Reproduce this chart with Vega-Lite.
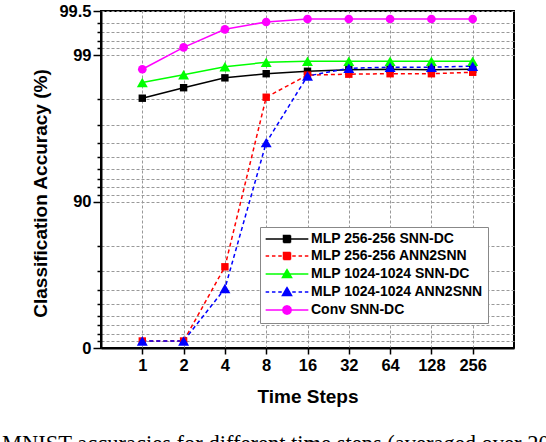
{
  "$schema": "https://vega.github.io/schema/vega-lite/v6.json",
  "autosize": "none",
  "padding": {"left": 101, "top": 11, "right": 32, "bottom": 94},
  "width": 413,
  "height": 337,
  "background": "white",
  "title": {
    "text": "MNIST accuracies for different time steps (averaged over 20",
    "orient": "bottom",
    "anchor": "start",
    "frame": "group",
    "dx": -99,
    "offset": 26,
    "font": "Liberation Serif",
    "fontSize": 22.5,
    "fontWeight": "normal",
    "color": "black"
  },
  "data": {
    "values": [
      {"series": "MLP 256-256 SNN-DC", "step": 1, "error": 1.97},
      {"series": "MLP 256-256 SNN-DC", "step": 2, "error": 1.67},
      {"series": "MLP 256-256 SNN-DC", "step": 4, "error": 1.43},
      {"series": "MLP 256-256 SNN-DC", "step": 8, "error": 1.34},
      {"series": "MLP 256-256 SNN-DC", "step": 16, "error": 1.29},
      {"series": "MLP 256-256 SNN-DC", "step": 32, "error": 1.26},
      {"series": "MLP 256-256 SNN-DC", "step": 64, "error": 1.25},
      {"series": "MLP 256-256 SNN-DC", "step": 128, "error": 1.26},
      {"series": "MLP 256-256 SNN-DC", "step": 256, "error": 1.25},
      {"series": "MLP 256-256 ANN2SNN", "step": 1, "error": 89.6},
      {"series": "MLP 256-256 ANN2SNN", "step": 2, "error": 89.6},
      {"series": "MLP 256-256 ANN2SNN", "step": 4, "error": 27.9},
      {"series": "MLP 256-256 ANN2SNN", "step": 8, "error": 1.94},
      {"series": "MLP 256-256 ANN2SNN", "step": 16, "error": 1.37},
      {"series": "MLP 256-256 ANN2SNN", "step": 32, "error": 1.35},
      {"series": "MLP 256-256 ANN2SNN", "step": 64, "error": 1.34},
      {"series": "MLP 256-256 ANN2SNN", "step": 128, "error": 1.34},
      {"series": "MLP 256-256 ANN2SNN", "step": 256, "error": 1.31},
      {"series": "MLP 1024-1024 SNN-DC", "step": 1, "error": 1.54},
      {"series": "MLP 1024-1024 SNN-DC", "step": 2, "error": 1.36},
      {"series": "MLP 1024-1024 SNN-DC", "step": 4, "error": 1.2},
      {"series": "MLP 1024-1024 SNN-DC", "step": 8, "error": 1.12},
      {"series": "MLP 1024-1024 SNN-DC", "step": 16, "error": 1.1},
      {"series": "MLP 1024-1024 SNN-DC", "step": 32, "error": 1.1},
      {"series": "MLP 1024-1024 SNN-DC", "step": 64, "error": 1.1},
      {"series": "MLP 1024-1024 SNN-DC", "step": 128, "error": 1.1},
      {"series": "MLP 1024-1024 SNN-DC", "step": 256, "error": 1.1},
      {"series": "MLP 1024-1024 ANN2SNN", "step": 1, "error": 89.6},
      {"series": "MLP 1024-1024 ANN2SNN", "step": 2, "error": 89.6},
      {"series": "MLP 1024-1024 ANN2SNN", "step": 4, "error": 39.3},
      {"series": "MLP 1024-1024 ANN2SNN", "step": 8, "error": 3.96},
      {"series": "MLP 1024-1024 ANN2SNN", "step": 16, "error": 1.39},
      {"series": "MLP 1024-1024 ANN2SNN", "step": 32, "error": 1.23},
      {"series": "MLP 1024-1024 ANN2SNN", "step": 64, "error": 1.21},
      {"series": "MLP 1024-1024 ANN2SNN", "step": 128, "error": 1.21},
      {"series": "MLP 1024-1024 ANN2SNN", "step": 256, "error": 1.19},
      {"series": "Conv SNN-DC", "step": 1, "error": 1.25},
      {"series": "Conv SNN-DC", "step": 2, "error": 0.885},
      {"series": "Conv SNN-DC", "step": 4, "error": 0.667},
      {"series": "Conv SNN-DC", "step": 8, "error": 0.594},
      {"series": "Conv SNN-DC", "step": 16, "error": 0.567},
      {"series": "Conv SNN-DC", "step": 32, "error": 0.567},
      {"series": "Conv SNN-DC", "step": 64, "error": 0.567},
      {"series": "Conv SNN-DC", "step": 128, "error": 0.567},
      {"series": "Conv SNN-DC", "step": 256, "error": 0.567}
    ]
  },
  "encoding": {
    "x": {
      "field": "step",
      "type": "ordinal",
      "scale": {"type": "point", "padding": 1, "domain": [1, 2, 4, 8, 16, 32, 64, 128, 256]},
      "axis": {
        "title": "Time Steps",
        "labelAngle": 0,
        "tickSize": 6,
        "labelPadding": 3,
        "titlePadding": 14
      }
    },
    "y": {
      "field": "error",
      "type": "quantitative",
      "scale": {"type": "log", "domain": [0.5, 100], "reverse": true, "nice": false},
      "axis": {
        "title": "Classification Accuracy (%)",
        "values": [100, 90, 80, 70, 60, 50, 40, 30, 20, 10, 9, 8, 7, 6, 5, 4, 3, 2, 1, 0.9, 0.8, 0.7, 0.6, 0.5],
        "labelExpr": "indexof([0.5, 1, 10, 100], datum.value) >= 0 ? format(100 - datum.value, '~g') : ''",
        "labelOverlap": false,
        "tickSize": {"condition": {"test": "indexof([0.5, 1, 10, 100], datum.value) >= 0", "value": 8}, "value": 4},
        "labelPadding": 2,
        "titlePadding": 8,
        "titleY": 182
      }
    },
    "color": {
      "field": "series",
      "type": "nominal",
      "scale": {
        "domain": ["MLP 256-256 SNN-DC", "MLP 256-256 ANN2SNN", "MLP 1024-1024 SNN-DC", "MLP 1024-1024 ANN2SNN", "Conv SNN-DC"],
        "range": ["#000000", "#ff0000", "#00ff00", "#0000ff", "#ff00ff"]
      },
      "legend": {
        "title": null,
        "orient": "none",
        "legendX": 159,
        "legendY": 216,
        "fillColor": "white",
        "strokeColor": "#888888",
        "padding": 5,
        "symbolSize": 49,
        "symbolOpacity": 1,
        "symbolStrokeWidth": 1.5,
        "symbolOffset": 15,
        "labelOffset": 17,
        "labelFontSize": 14,
        "labelFontWeight": "bold",
        "labelColor": "black",
        "labelLimit": 400,
        "rowPadding": 3,
        "labelExpr": "datum.label + '       '",
        "encode": {
          "symbols": {
            "update": {
              "fill": {"signal": "scale('color', datum.value)"},
              "stroke": {"signal": "scale('color', datum.value)"},
              "strokeDash": {"value": [1, 0]},
              "opacity": {"value": 1},
              "shape": {"signal": "datum.value === 'MLP 256-256 SNN-DC' ? 'M-6.1,0H6.1M-1,-1H1V1H-1Z' : datum.value === 'MLP 256-256 ANN2SNN' ? 'M-6.1,0H-5.1M-4.3,0H-3.3M-2.5,0H-1.5M1.5,0H2.5M3.3,0H4.3M5.1,0H6.1M-1,-1H1V1H-1Z' : datum.value === 'MLP 1024-1024 SNN-DC' ? 'M-6.1,0H6.1M0,-1.25L1.3,1L-1.3,1Z' : datum.value === 'MLP 1024-1024 ANN2SNN' ? 'M-6.1,0H-5.1M-4.3,0H-3.3M-2.5,0H-1.5M1.5,0H2.5M3.3,0H4.3M5.1,0H6.1M0,-1.25L1.3,1L-1.3,1Z' : 'M-6.1,0H6.1M1.2,0L1.04,0.6L0.6,1.04L0,1.2L-0.6,1.04L-1.04,0.6L-1.2,0L-1.04,-0.6L-0.6,-1.04L0,-1.2L0.6,-1.04L1.04,-0.6Z'"}
            }
          }
        }
      }
    }
  },
  "layer": [
    {
      "transform": [{"filter": {"field": "series", "oneOf": ["MLP 256-256 SNN-DC", "MLP 1024-1024 SNN-DC", "Conv SNN-DC"]}}],
      "mark": {"type": "line", "strokeWidth": 1.5}
    },
    {
      "transform": [{"filter": {"field": "series", "oneOf": ["MLP 256-256 ANN2SNN", "MLP 1024-1024 ANN2SNN"]}}],
      "mark": {"type": "line", "strokeWidth": 1.5, "strokeDash": [4, 3]}
    },
    {
      "transform": [{"filter": {"field": "series", "oneOf": ["MLP 256-256 SNN-DC", "MLP 256-256 ANN2SNN"]}}],
      "mark": {"type": "point", "shape": "square", "size": 55, "filled": true, "opacity": 1}
    },
    {
      "transform": [{"filter": {"field": "series", "oneOf": ["MLP 1024-1024 SNN-DC", "MLP 1024-1024 ANN2SNN"]}}],
      "mark": {"type": "point", "shape": "triangle-up", "size": 120, "filled": true, "opacity": 1}
    },
    {
      "transform": [{"filter": {"field": "series", "equal": "Conv SNN-DC"}}],
      "mark": {"type": "point", "shape": "circle", "size": 75, "filled": true, "opacity": 1}
    }
  ],
  "config": {
    "font": "Liberation Sans",
    "view": {"stroke": "black", "strokeWidth": 2},
    "axis": {
      "domainColor": "black",
      "domainWidth": 2,
      "tickColor": "black",
      "tickWidth": 1.5,
      "grid": true,
      "gridColor": "#999999",
      "gridDash": [3, 2],
      "gridWidth": 1,
      "labelFont": "Liberation Sans",
      "labelFontSize": 16.5,
      "labelFontWeight": "bold",
      "labelColor": "black",
      "titleFont": "Liberation Sans",
      "titleFontSize": 19,
      "titleFontWeight": "bold",
      "titleColor": "black"
    }
  }
}
